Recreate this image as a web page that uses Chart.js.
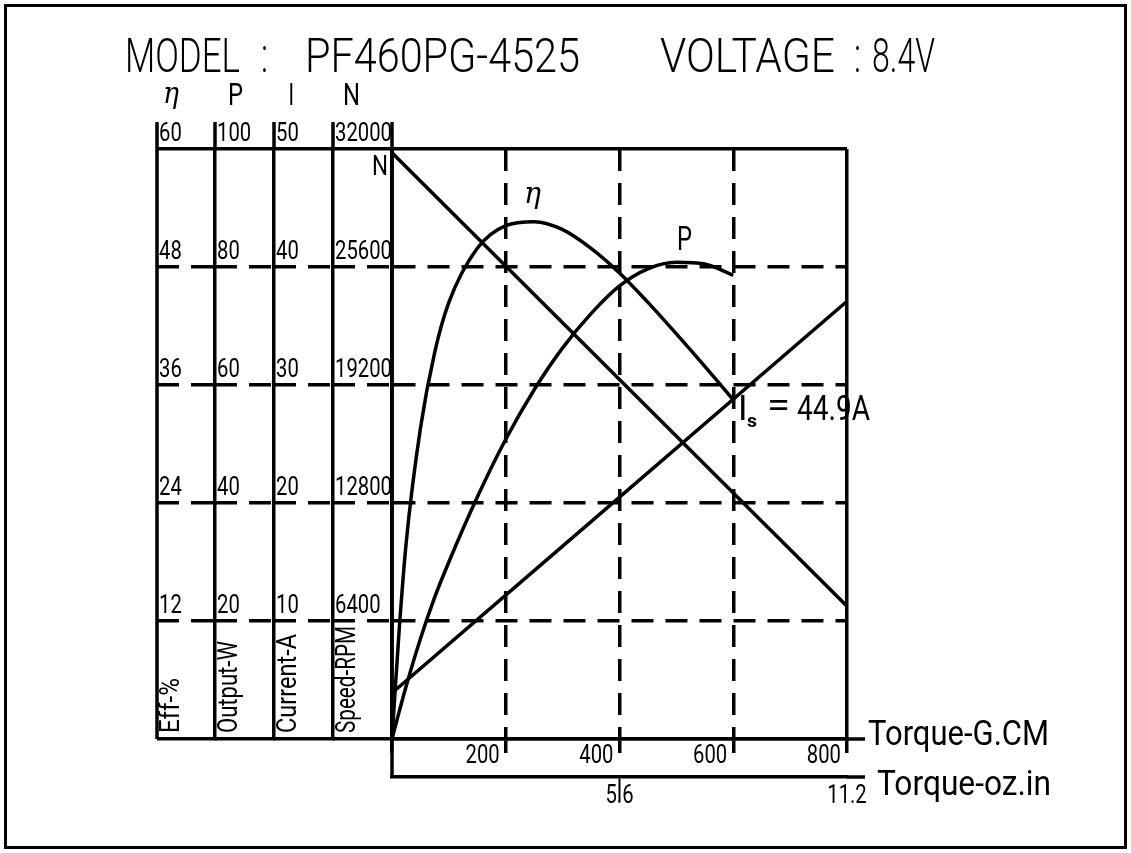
<!DOCTYPE html>
<html>
<head>
<meta charset="utf-8">
<title>PF460PG-4525</title>
<script src="https://cdn.jsdelivr.net/npm/chart.js@4.4.1/dist/chart.umd.min.js"></script>
<style>
  html, body { margin: 0; padding: 0; background: #fff; }
  #wrap { position: relative; width: 1131px; height: 853px; }
</style>
</head>
<body>
<div id="wrap"><canvas id="motorChart" width="1131" height="853"></canvas></div>
<script>
/* ─── Datos ─────────────────────────────────────────── */
const TORQUE_TICKS = [0, 200, 400, 600, 800];
const OZIN_TICKS = [5.6, 11.2];
const EFF_TICKS = [0, 12, 24, 36, 48, 60];
const POWER_TICKS = [0, 20, 40, 60, 80, 100];
const CURRENT_TICKS = [0, 10, 20, 30, 40, 50];
const SPEED_TICKS = [0, 6400, 12800, 19200, 25600, 32000];

// torque (G.CM) where the eff / output curves were read
const CURVE_TORQUE = [0, 12.5, 25, 50, 75, 100, 150, 200, 250, 300, 350, 400, 450, 500, 550, 600];
const EFF_VALUES   = [0, 11.0, 20.0, 31.6, 39.3, 44.4, 49.9, 52.2, 52.6, 51.8, 49.9, 47.4, 44.4, 41.2, 37.9, 34.5];
const POWER_VALUES = [0, 4.6, 9.0, 17.0, 24.0, 30.0, 41.0, 50.8, 59.2, 66.3, 72.1, 76.8, 79.7, 80.8, 80.5, 78.6];

// straight lines: speed and current
const LINE_TORQUE    = [0, 800];
const SPEED_VALUES   = [31800, 7200];
const CURRENT_VALUES = [3.9, 37.1];

/* ─── Estilo ────────────────────────────────────────── */
const BLACK = "#000";
const LW = 3.5;
const DASH = [22, 12];
const FONT = "Roboto, 'DejaVu Sans Condensed', sans-serif";
const TICK_FONT = "25px " + FONT;
const TICK_SX = 0.81;

// dashed for inner ticks, solid for first/last
function dashFor(ticks) {
  return (c) =>
    c.tick && c.tick.value > ticks[0] && c.tick.value < ticks[ticks.length - 1] ? DASH : [];
}

function pts(xs, ys) {
  return xs.map((x, i) => ({ x: x, y: ys[i] }));
}

function leftAxis(ticks, width, weight, onArea) {
  return {
    type: "linear",
    position: "left",
    weight: weight,
    min: ticks[0],
    max: ticks[ticks.length - 1],
    afterBuildTicks: (s) => { s.ticks = ticks.map((v) => ({ value: v })); },
    afterFit: (s) => { s.width = width; s.paddingTop = 0; s.paddingBottom = 0; },
    grid: {
      drawOnChartArea: onArea,
      color: BLACK,
      lineWidth: LW,
      tickLength: width,
      tickWidth: LW,
      tickColor: BLACK,
      tickBorderDash: dashFor(ticks),
    },
    border: { display: true, color: BLACK, width: LW, dash: dashFor(ticks) },
    ticks: { display: false },
  };
}

/* ─── Helpers de texto ──────────────────────────────── */
// draw text squeezed horizontally by sx
function drawText(ctx, text, x, y, font, sx, align) {
  ctx.save();
  ctx.font = font;
  ctx.textAlign = "left";
  ctx.textBaseline = "alphabetic";
  const w = ctx.measureText(text).width * sx;
  const dx = align === "right" ? -w : align === "center" ? -w / 2 : 0;
  ctx.translate(x + dx, y);
  ctx.scale(sx, 1);
  ctx.fillText(text, 0, 0);
  ctx.restore();
}

// draw text stretched to a given width
function fitText(ctx, text, x, y, w, font) {
  ctx.save();
  ctx.font = font;
  const m = ctx.measureText(text).width;
  ctx.restore();
  drawText(ctx, text, x, y, font, w / m, "left");
}

function seg(ctx, x1, y1, x2, y2) {
  ctx.beginPath();
  ctx.moveTo(x1, y1);
  ctx.lineTo(x2, y2);
  ctx.stroke();
}

/* ─── Plugin: marco, etiquetas y títulos ────────────── */
const sheetPlugin = {
  id: "sheet",
  afterDraw(chart) {
    const { ctx, chartArea: a, scales } = chart;
    const yE = scales.yE, yP = scales.yP, yI = scales.yI, yN = scales.yN;
    const x1 = scales.x, x2 = scales.x2;
    ctx.save();
    ctx.strokeStyle = BLACK;
    ctx.fillStyle = BLACK;

    // outer frame
    ctx.lineWidth = 3;
    ctx.strokeRect(5.5, 5.5, 1120, 842);
    ctx.lineWidth = LW;

    // column lines (extend above the top line)
    seg(ctx, yE.left, 122, yE.left, a.bottom);
    [yE.right, yP.right, yI.right].forEach((x) => seg(ctx, x, 122, x, a.top));
    seg(ctx, a.left, 122, a.left, x2.top);

    // axis lines run past the plot
    seg(ctx, a.right, x1.top, 865, x1.top);
    seg(ctx, a.right, x2.top, 865, x2.top);

    // y tick labels, one column per scale
    [[yE, EFF_TICKS], [yP, POWER_TICKS], [yI, CURRENT_TICKS], [yN, SPEED_TICKS]].forEach(([s, ticks]) => {
      ticks.filter((v) => v !== 0).forEach((v) => {
        drawText(ctx, String(v), s.left + 2, s.getPixelForValue(v) - 8, TICK_FONT, TICK_SX, "left");
      });
    });

    // x tick labels
    TORQUE_TICKS.filter((v) => v !== 0).forEach((v) => {
      drawText(ctx, String(v), x1.getPixelForValue(v) - 6, 763, TICK_FONT, TICK_SX, "right");
    });
    OZIN_TICKS.forEach((v) => {
      drawText(ctx, String(v), x2.getPixelForValue(v), 803, TICK_FONT, TICK_SX, "center");
    });

    // title
    const tf = "300 48px " + FONT;
    fitText(ctx, "MODEL", 125, 72, 115, tf);
    fitText(ctx, ":", 261, 72, 7, tf);
    fitText(ctx, "PF460PG-4525", 305, 72, 275, tf);
    fitText(ctx, "VOLTAGE", 660, 72, 175, tf);
    fitText(ctx, ":", 854, 72, 7, tf);
    fitText(ctx, "8.4V", 872, 72, 63, tf);

    // axis symbols
    const sf = "32px " + FONT;
    fitText(ctx, "η", 163, 103, 16, "italic 30px 'DejaVu Serif', serif");
    fitText(ctx, "P", 228, 105, 15, sf);
    drawText(ctx, "I", 287, 105, "300 32px " + FONT, 1, "left");
    fitText(ctx, "N", 343, 105, 17, sf);

    // rotated axis titles
    const rf = "27px " + FONT;
    [
      ["Eff-%", yE.left, 55],
      ["Output-W", yE.right, 92],
      ["Current-A", yP.right, 99],
      ["Speed-RPM", yI.right, 107],
    ].forEach(([t, x, w]) => {
      ctx.save();
      ctx.translate(x + 22, a.bottom - 6);
      ctx.rotate(-Math.PI / 2);
      fitText(ctx, t, 0, 0, w, rf);
      ctx.restore();
    });

    // curve labels
    fitText(ctx, "N", 372, 175, 16, "28px " + FONT);
    fitText(ctx, "η", 524, 203, 17, "italic 30px 'DejaVu Serif', serif");
    fitText(ctx, "P", 677, 250, 15, "34px " + FONT);
    drawText(ctx, "I", 738, 420, "35px " + FONT, 1, "left");
    fitText(ctx, "s", 747, 427, 10, "bold 18px " + FONT);
    fitText(ctx, "=", 767, 417, 23, "35px " + FONT);
    fitText(ctx, "44.9A", 797, 420, 73, "35px " + FONT);

    // x axis titles
    fitText(ctx, "Torque-G.CM", 868, 745, 181, "35px " + FONT);
    fitText(ctx, "Torque-oz.in", 877, 795, 174, "35px " + FONT);

    ctx.restore();
  },
};

/* ─── Chart ─────────────────────────────────────────── */
function curve(label, axis, data) {
  return {
    label: label,
    yAxisID: axis,
    data: data,
    borderColor: BLACK,
    borderWidth: LW,
    pointRadius: 0,
    fill: false,
    cubicInterpolationMode: "monotone",
  };
}

new Chart(document.getElementById("motorChart"), {
  type: "line",
  data: {
    datasets: [
      curve("Eff-%", "yE", pts(CURVE_TORQUE, EFF_VALUES)),
      curve("Output-W", "yP", pts(CURVE_TORQUE, POWER_VALUES)),
      curve("Current-A", "yI", pts(LINE_TORQUE, CURRENT_VALUES)),
      curve("Speed-RPM", "yN", pts(LINE_TORQUE, SPEED_VALUES)),
    ],
  },
  options: {
    responsive: false,
    animation: false,
    layout: { padding: { left: 157, top: 149, right: 284, bottom: 42 } },
    plugins: { legend: { display: false }, tooltip: { enabled: false } },
    scales: {
      x: {
        type: "linear",
        position: "bottom",
        weight: 1,
        min: TORQUE_TICKS[0],
        max: TORQUE_TICKS[TORQUE_TICKS.length - 1],
        afterBuildTicks: (s) => { s.ticks = TORQUE_TICKS.map((v) => ({ value: v })); },
        afterFit: (s) => { s.height = 38; s.paddingLeft = 0; s.paddingRight = 0; },
        grid: { color: BLACK, lineWidth: LW, tickLength: 14, tickColor: BLACK, tickWidth: LW },
        border: { color: BLACK, width: LW, dash: dashFor(TORQUE_TICKS) },
        ticks: { display: false },
      },
      x2: {
        type: "linear",
        position: "bottom",
        weight: 2,
        min: 0,
        max: OZIN_TICKS[OZIN_TICKS.length - 1],
        afterBuildTicks: (s) => { s.ticks = OZIN_TICKS.map((v) => ({ value: v })); },
        afterFit: (s) => { s.height = 34; s.paddingLeft = 0; s.paddingRight = 0; },
        grid: {
          drawOnChartArea: false,
          tickLength: 24,
          tickWidth: 2,
          tickColor: (c) => (c.tick && c.tick.value === OZIN_TICKS[0] ? BLACK : "rgba(0,0,0,0)"),
        },
        border: { color: BLACK, width: LW },
        ticks: { display: false },
      },
      yN: leftAxis(SPEED_TICKS, 59, 1, true),
      yI: leftAxis(CURRENT_TICKS, 59, 2, false),
      yP: leftAxis(POWER_TICKS, 59, 3, false),
      yE: leftAxis(EFF_TICKS, 58, 4, false),
    },
  },
  plugins: [sheetPlugin],
});
</script>
</body>
</html>
